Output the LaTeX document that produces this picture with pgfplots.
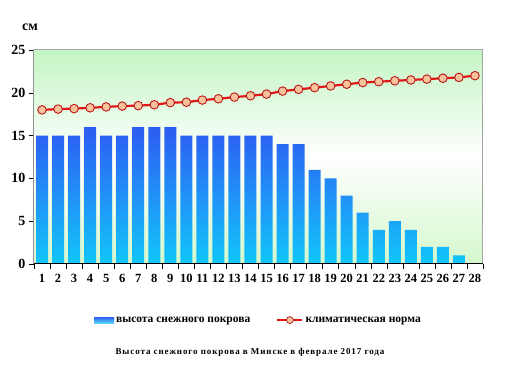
\documentclass[border=0pt]{standalone}
\usepackage{fontspec}
\setmainfont{Liberation Serif}
\newfontfamily\titlefont[LetterSpace=10]{Liberation Serif}
\usepackage{pgfplots}
\pgfplotsset{compat=1.18}
\definecolor{bartop}{HTML}{2E5CF2}
\definecolor{barbot}{HTML}{12C6FA}
\definecolor{bgg}{HTML}{C4F5C4}
\definecolor{bgb}{HTML}{D4F7CC}
\definecolor{linered}{HTML}{E01818}
\definecolor{markfill}{HTML}{F8C39C}
\begin{document}
\begin{tikzpicture}
\path[use as bounding box] (0,0) rectangle (507pt,380pt);
\begin{axis}[
  at={(34pt,116pt)}, anchor=south west,
  scale only axis, width=449pt, height=214pt,
  xmin=0.5, xmax=28.5, ymin=0, ymax=25,
  xtick={1,...,28}, major x tick style={draw=none},
  minor xtick={0.5,1.5,...,28.5},
  minor x tick style={black, thin},
  ytick={0,5,...,25},
  y tick style={black, thin},
  tick align=outside, xtick pos=bottom, ytick pos=left,
  major tick length=5pt, minor tick length=5pt,
  axis line style={gray!70, line width=1pt},
  axis background/.style={top color=bgg, bottom color=bgb, middle color=white},
  /pgf/number format/assume math mode=true,
  xticklabel style={font=\fontsize{12.5}{14}\selectfont\bfseries, yshift=-2pt},
  yticklabel style={font=\fontsize{14}{16}\selectfont\bfseries},
  legend columns=2,
  legend style={at={(0.5,-0.262)}, anchor=center, draw=none, fill=none,
    font=\fontsize{11.5}{13}\selectfont\bfseries, /tikz/every even column/.append style={column sep=24pt}},
]
\addplot[ybar, bar width=0.75, draw=none, top color=bartop, bottom color=barbot,
  legend image code/.code={\fill[top color=bartop, bottom color=barbot!70] (0pt,-3pt) rectangle (20pt,3pt);}]
coordinates {(1,15)(2,15)(3,15)(4,16)(5,15)(6,15)(7,16)(8,16)(9,16)(10,15)(11,15)(12,15)(13,15)(14,15)(15,15)(16,14)(17,14)(18,11)(19,10)(20,8)(21,6)(22,4)(23,5)(24,4)(25,2)(26,2)(27,1)(28,0)};
\addlegendentry{высота снежного покрова}
\addplot[linered, line width=2.2pt, mark=*, mark size=4.3pt,
  mark options={fill=markfill, draw=linered!85!black, line width=0.9pt},
  legend image code/.code={\draw[linered, line width=2.2pt] (0pt,0pt) -- (25pt,0pt); \draw[fill=markfill, draw=linered!85!black, line width=0.7pt] (12.5pt,0pt) circle (3.5pt);}]
coordinates {(1,18.0)(2,18.1)(3,18.15)(4,18.25)(5,18.35)(6,18.45)(7,18.5)(8,18.6)(9,18.85)(10,18.9)(11,19.15)(12,19.3)(13,19.5)(14,19.65)(15,19.85)(16,20.2)(17,20.4)(18,20.6)(19,20.8)(20,21.0)(21,21.2)(22,21.3)(23,21.4)(24,21.5)(25,21.6)(26,21.7)(27,21.8)(28,22.0)};
\addlegendentry{климатическая норма}
\draw[black, line width=1pt] (rel axis cs:0,1) -- (rel axis cs:0,0) -- (rel axis cs:1,0);
\end{axis}
\node[font=\fontsize{14}{16}\selectfont\bfseries] at (30pt,353pt) {см};
\node[font=\titlefont\fontsize{9}{10}\selectfont\bfseries] at (250pt,28pt) {Высота снежного покрова в Минске в феврале 2017 года};
\end{tikzpicture}
\end{document}
